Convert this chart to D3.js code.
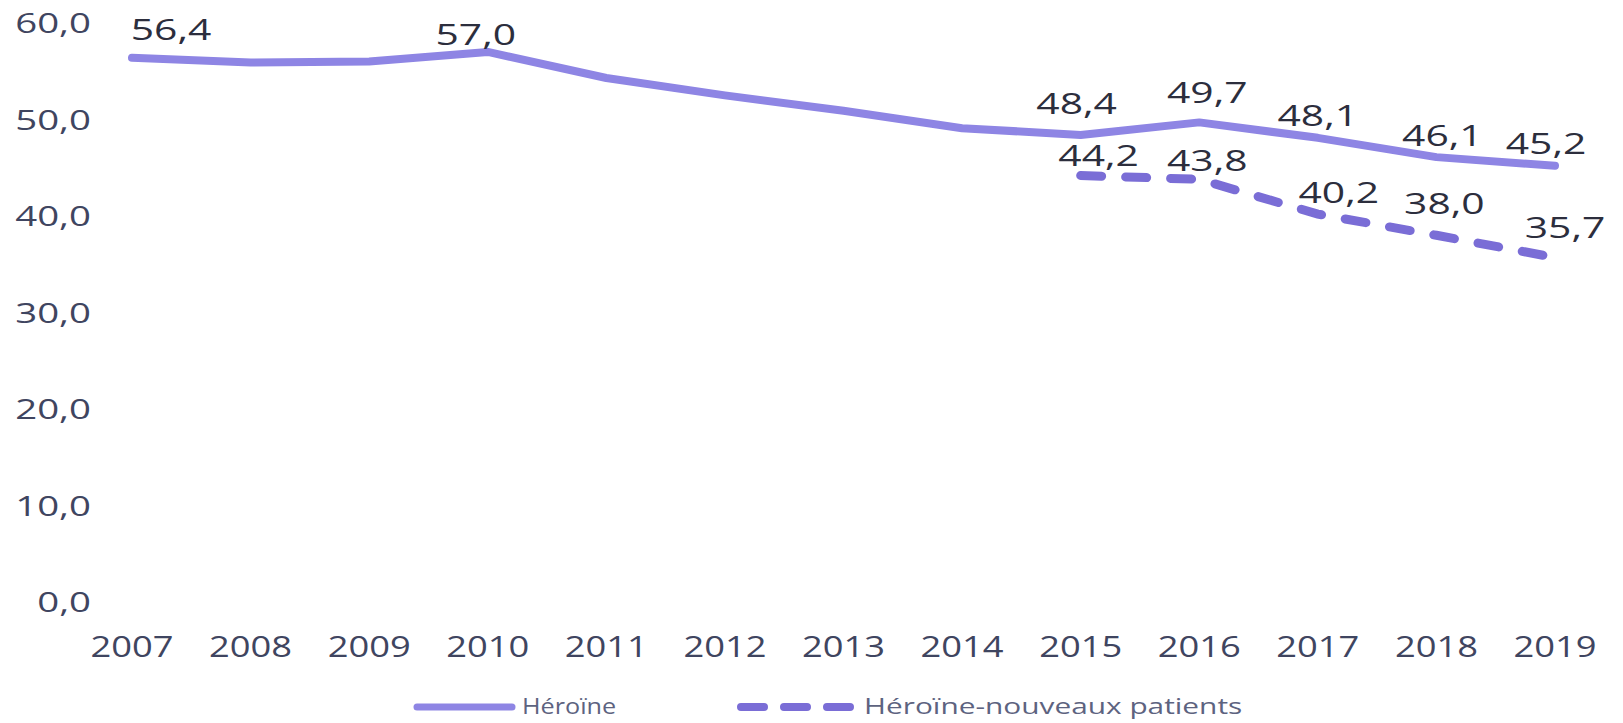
<!DOCTYPE html>
<html lang="fr">
<head>
<meta charset="UTF-8">
<script src="https://d3js.org/d3.v7.min.js"></script>
<title>Héroïne</title>
<style>
  body { margin: 0; background: #fff; }
  text { font-family: "Open Sans", sans-serif; }
</style>
</head>
<body>
<script>
var years = [2007, 2008, 2009, 2010, 2011, 2012, 2013, 2014, 2015, 2016, 2017, 2018, 2019];
var heroine = [56.4, 55.9, 56.0, 57.0, 54.3, 52.5, 50.9, 49.1, 48.4, 49.7, 48.1, 46.1, 45.2];
var nouveaux = [null, null, null, null, null, null, null, null, 44.2, 43.8, 40.2, 38.0, 35.7];
var heroineLabelled = [2007, 2010, 2015, 2016, 2017, 2018, 2019];
var yTicks = [0, 10, 20, 30, 40, 50, 60];
var seriesNames = ["Héroïne", "Héroïne-nouveaux patients"];

// label nudges (dx, dy of label centre from the point)
var heroineNudge = {2007: [39, -29], 2010: [-12, -18], 2015: [-4, -32], 2016: [8, -30], 2017: [0, -23], 2018: [6, -22], 2019: [-9, -23]};
var nouveauxNudge = {2015: [18, -20], 2016: [8, -19], 2017: [21, -22], 2018: [8, -32], 2019: [10, -30]};

var width = 1623, height = 723;
var solidColor = "#8e85e4", dashColor = "#7a6dd6";

var svg = d3.select("body").append("svg")
  .attr("width", width)
  .attr("height", height);

var x = d3.scalePoint().domain(years).range([132, 1555]);
var y = d3.scaleLinear().domain([0, 60]).range([602, 23]);

var fmt = function (v) { return d3.format(".1f")(v).replace(".", ","); };

// the source picture is stretched sideways, so widen the text the same way
function stretch(sel, k) {
  sel.each(function () {
    var w = this.getComputedTextLength();
    d3.select(this).attr("textLength", w * k).attr("lengthAdjust", "spacingAndGlyphs");
  });
}

// y axis labels
var yl = svg.append("g").selectAll("text")
  .data(yTicks)
  .enter().append("text")
  .attr("x", 91)
  .attr("y", function (d) { return y(d); })
  .attr("dy", "0.36em")
  .attr("text-anchor", "end")
  .attr("font-size", 28)
  .attr("fill", "#3f4560")
  .text(fmt);
stretch(yl, 1.37);

// x axis labels
var xl = svg.append("g").selectAll("text")
  .data(years)
  .enter().append("text")
  .attr("x", function (d) { return x(d); })
  .attr("y", 646)
  .attr("dy", "0.36em")
  .attr("text-anchor", "middle")
  .attr("font-size", 30)
  .attr("fill", "#3f4560")
  .text(function (d) { return d; });
stretch(xl, 1.21);

var line = d3.line()
  .defined(function (d) { return d.v != null; })
  .x(function (d) { return x(d.year); })
  .y(function (d) { return y(d.v); });

var heroineData = years.map(function (yr, i) { return {year: yr, v: heroine[i]}; });
var nouveauxData = years.map(function (yr, i) { return {year: yr, v: nouveaux[i]}; });

svg.append("path")
  .datum(heroineData)
  .attr("fill", "none")
  .attr("stroke", solidColor)
  .attr("stroke-width", 8)
  .attr("stroke-linejoin", "round")
  .attr("stroke-linecap", "round")
  .attr("d", line);

svg.append("path")
  .datum(nouveauxData)
  .attr("fill", "none")
  .attr("stroke", dashColor)
  .attr("stroke-width", 9)
  .attr("stroke-linecap", "round")
  .attr("stroke-dasharray", "21 24")
  .attr("d", line);

// data labels
var hl = svg.append("g").selectAll("text")
  .data(heroineData.filter(function (d) { return heroineLabelled.indexOf(d.year) >= 0; }))
  .enter().append("text")
  .attr("x", function (d) { return x(d.year) + heroineNudge[d.year][0]; })
  .attr("y", function (d) { return y(d.v) + heroineNudge[d.year][1]; })
  .attr("dy", "0.36em")
  .attr("text-anchor", "middle")
  .attr("font-size", 30)
  .attr("fill", "#2c2e3d")
  .text(function (d) { return fmt(d.v); });
stretch(hl, 1.36);

var nl = svg.append("g").selectAll("text")
  .data(nouveauxData.filter(function (d) { return d.v != null; }))
  .enter().append("text")
  .attr("x", function (d) { return x(d.year) + nouveauxNudge[d.year][0]; })
  .attr("y", function (d) { return y(d.v) + nouveauxNudge[d.year][1]; })
  .attr("dy", "0.36em")
  .attr("text-anchor", "middle")
  .attr("font-size", 30)
  .attr("fill", "#2c2e3d")
  .text(function (d) { return fmt(d.v); });
stretch(nl, 1.36);

// legend
var legend = svg.append("g");
legend.append("line")
  .attr("x1", 417).attr("x2", 512).attr("y1", 707).attr("y2", 707)
  .attr("stroke", solidColor).attr("stroke-width", 7).attr("stroke-linecap", "round");
var lt1 = legend.append("text")
  .attr("x", 522).attr("y", 706).attr("dy", "0.36em")
  .attr("font-size", 21).attr("fill", "#5d6380")
  .text(seriesNames[0]);
stretch(lt1, 1.2);
legend.append("line")
  .attr("x1", 741).attr("x2", 851).attr("y1", 707).attr("y2", 707)
  .attr("stroke", dashColor).attr("stroke-width", 8).attr("stroke-linecap", "round")
  .attr("stroke-dasharray", "23 20");
var lt2 = legend.append("text")
  .attr("x", 864).attr("y", 706).attr("dy", "0.36em")
  .attr("font-size", 21).attr("fill", "#5d6380")
  .text(seriesNames[1]);
stretch(lt2, 1.42);
</script>
</body>
</html>
